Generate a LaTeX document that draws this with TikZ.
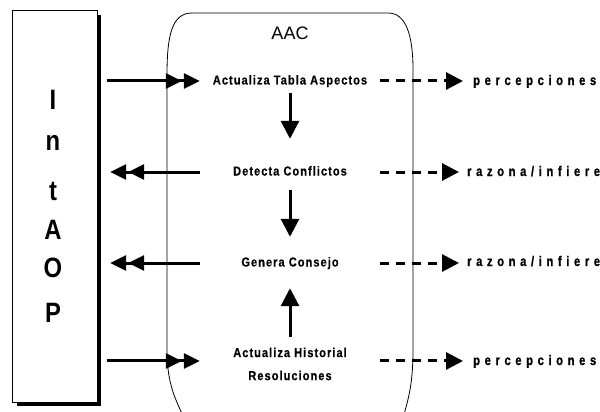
\documentclass[tikz,border=0pt]{standalone}
\usepackage{fontspec}
\setmainfont{Liberation Sans}
\newfontfamily\ctrfont[LetterSpace=8,FakeStretch=0.85,FakeBold=0.4]{Liberation Sans}
\newfontfamily\sidefont[LetterSpace=33,FakeStretch=0.8,FakeBold=0.8]{Liberation Sans}
\newfontfamily\letfont[FakeStretch=0.85]{Liberation Sans}
\usetikzlibrary{arrows.meta}
\begin{document}
\begin{tikzpicture}[x=1pt,y=-1pt,
  ctrbase/.style={font=\ctrfont\bfseries\fontsize{13}{23}\selectfont, minimum width=180pt, inner sep=0pt},
  ctr/.style={ctrbase, text height=9.5pt, text depth=2.5pt},
  side/.style={font=\sidefont\bfseries\fontsize{14}{16}\selectfont, anchor=west, inner ysep=0pt, text height=10pt, text depth=3pt},
  letter/.style={font=\letfont\bfseries\fontsize{28}{30}\selectfont, anchor=base, inner sep=0pt},
  heavy/.style={line width=3pt},
  dblin/.style={heavy, -{Triangle[length=16pt,width=15pt,sep=2pt]Triangle[length=16pt,width=15pt]}},
  vert/.style={heavy, -{Triangle[length=18pt,width=18pt]}},
  dash3/.style={heavy, dash pattern=on 9pt off 7pt, -{Triangle[length=17pt,width=17pt]}},
  rim/.style={line width=0.8pt}
]
\useasboundingbox (0,0) rectangle (600,412);
\clip (0,0) rectangle (600,412);

% IntAOP box with shadow
\node[minimum width=85pt, minimum height=392pt, inner sep=0pt] (intaop) at (54.5,206) {};
\fill ([yshift=-5pt]intaop.north east) rectangle ([xshift=4pt,yshift=-4pt]intaop.south east);
\fill ([xshift=5pt]intaop.south west) rectangle ([xshift=4pt,yshift=-4pt]intaop.south east);
\node[draw, rim, fill=white, minimum width=85pt, minimum height=392pt, inner sep=0pt] at (intaop) {};
\node[letter] (l1) at (53,110) {I};
\node[letter] (l2) at (53,150.5) {n};
\node[letter] (l3) at (53,200) {t};
\node[letter] (l4) at (53,239.5) {A};
\node[letter] (l5) at (53,277.5) {O};
\node[letter] (l6) at (53,322) {P};

% AAC outline
\draw[rim] (184,418) .. controls (176,400) and (167,385) .. (167,350) -- (167,75)
  .. controls (167,35) and (172,13) .. (192,13) -- (388,13)
  .. controls (406,13) and (413,35) .. (413,70) -- (413,350)
  .. controls (413,385) and (408,400) .. (403,418);
\node[font=\fontsize{18}{20}\selectfont, anchor=base, inner sep=0pt] (aac) at (290,39.5) {AAC};

% centre texts
\node[ctr] (t1) at (290,81) {Actualiza Tabla Aspectos};
\node[ctr] (t2) at (290,172) {Detecta Conflictos};
\node[ctr] (t3) at (290,263) {Genera Consejo};
\node[ctrbase, align=center, anchor=north] (t4) at (290,347.5) {Actualiza Historial\\Resoluciones};
\coordinate (r4) at ([yshift=3pt]t4.west);

% side texts
\node[side, inner xsep=10pt] (p1) at (463,81.5) {percepciones};
\node[side, inner xsep=8pt] (p2) at (459,172.5) {razona/infiere};
\node[side, inner xsep=8pt] (p3) at (459,262.5) {razona/infiere};
\node[side, inner xsep=10pt] (p4) at (463,361.5) {percepciones};

% arrows from / to IntAOP
\draw[dblin, shorten <=10pt] (intaop.east |- t1) -- (t1.west);
\draw[dblin, shorten >=13pt] (t2.west) -- (intaop.east |- t2);
\draw[dblin, shorten >=13pt] (t3.west) -- (intaop.east |- t3);
\draw[dblin, shorten <=10pt] (intaop.east |- r4) -- (r4);

% vertical arrows
\draw[vert, shorten <=6pt, shorten >=27pt] (t1.south) -- (t2.north);
\draw[vert, shorten <=12pt, shorten >=20pt] (t2.south) -- (t3.north);
\draw[vert, shorten <=11pt, shorten >=19pt] (t4.north) -- (t3.south);

% dashed arrows
\draw[dash3] (t1.east) -- (t1.east -| p1.west);
\draw[dash3] (t2.east) -- (t2.east -| p2.west);
\draw[dash3] (t3.east) -- (t3.east -| p3.west);
\draw[dash3] (r4 -| t4.east) -- (r4 -| p4.west);
\end{tikzpicture}
\end{document}
